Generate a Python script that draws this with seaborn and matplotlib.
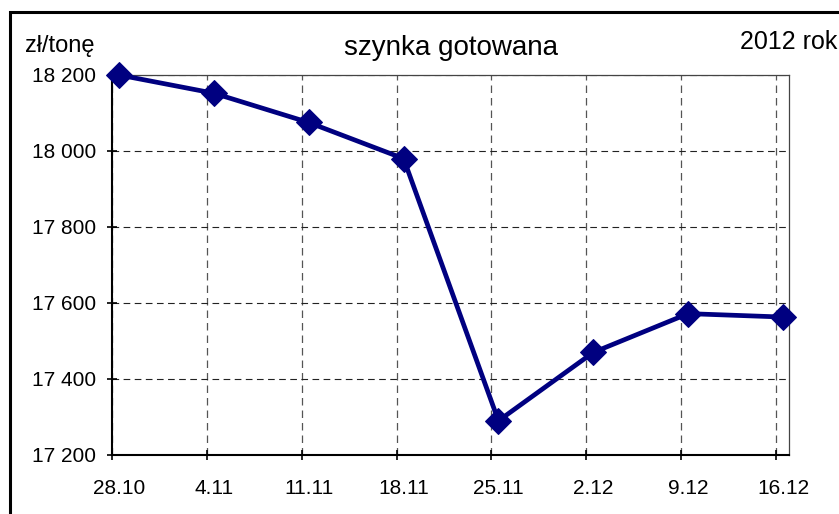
import matplotlib
matplotlib.use("Agg")
import matplotlib.pyplot as plt
import seaborn as sns
import pandas as pd
from matplotlib.patches import Rectangle

# =========================
# Data
# =========================
dates = ["28.10", "4.11", "11.11", "18.11", "25.11", "2.12", "9.12", "16.12"]
prices = [18200, 18152, 18075, 17980, 17290, 17470, 17572, 17563]
y_ticks = [17200, 17400, 17600, 17800, 18000, 18200]
y_labels = ["17 200", "17 400", "17 600", "17 800", "18 000", "18 200"]

sns.set_theme(style="white")
plt.rcParams["font.family"] = ["Liberation Sans", "DejaVu Sans"]
plt.rcParams["text.color"] = "black"
plt.rcParams["xtick.color"] = "black"
plt.rcParams["ytick.color"] = "black"
plt.rcParams["xtick.labelcolor"] = "black"
plt.rcParams["ytick.labelcolor"] = "black"

df = pd.DataFrame({"pos": range(len(dates)), "cena": prices})

# =========================
# Plot
# =========================
fig = plt.figure(figsize=(8.39, 5.14), dpi=100)
ax = fig.add_axes([0.1335, 0.1148, 0.8069, 0.7393])

sns.lineplot(data=df, x="pos", y="cena", ax=ax, color="#000080", linewidth=3.4,
             marker="D", markersize=13, markeredgecolor="#000080",
             clip_on=False, zorder=5)

# grid / ticks sit slightly left of the points (Excel date axis)
off = 0.074
ax.set_xlim(-off, 7.063)
ax.set_ylim(17200, 18200)

ax.set_xticks(range(len(dates)))
ax.set_xticklabels(dates, fontsize=15)
ax.set_xticks([i - off for i in range(len(dates))], minor=True)
ax.tick_params(axis="x", which="major", length=0, pad=17)
ax.tick_params(axis="x", which="minor", direction="inout", length=7, width=1.2,
               color="black", bottom=True)

ax.set_yticks(y_ticks)
ax.set_yticklabels(y_labels, fontsize=15)
ax.tick_params(axis="y", which="major", direction="inout", length=7, width=1.2,
               color="black", left=True, pad=8)

ax.xaxis.grid(True, which="minor", linestyle=(0, (6, 4)), color="#555555", linewidth=0.9)
ax.xaxis.grid(False, which="major")
ax.yaxis.grid(True, which="major", linestyle=(0, (6, 4)), color="#222222", linewidth=0.8)

ax.set_xlabel("")
ax.set_ylabel("")

for side in ["left", "bottom"]:
    ax.spines[side].set_color("black")
    ax.spines[side].set_linewidth(1.5)
for side in ["top", "right"]:
    ax.spines[side].set_color("#444444")
    ax.spines[side].set_linewidth(0.9)

# =========================
# Texts
# =========================
fig.text(25 / 839, 1 - 46 / 514, "zł/tonę", fontsize=17, ha="left", va="center")
fig.text(451 / 839, 1 - 48 / 514, "szynka gotowana", fontsize=20, ha="center", va="center")
fig.text(837 / 839, 1 - 42 / 514, "2012 rok", fontsize=18, ha="right", va="center")

# outer frame
fig.patches.append(Rectangle((10 / 839, -0.1), 1.2, (1 - 12 / 514) + 0.1,
                             transform=fig.transFigure, fill=False,
                             linewidth=2.2, edgecolor="black"))

fig.savefig("out.png", dpi=100)
